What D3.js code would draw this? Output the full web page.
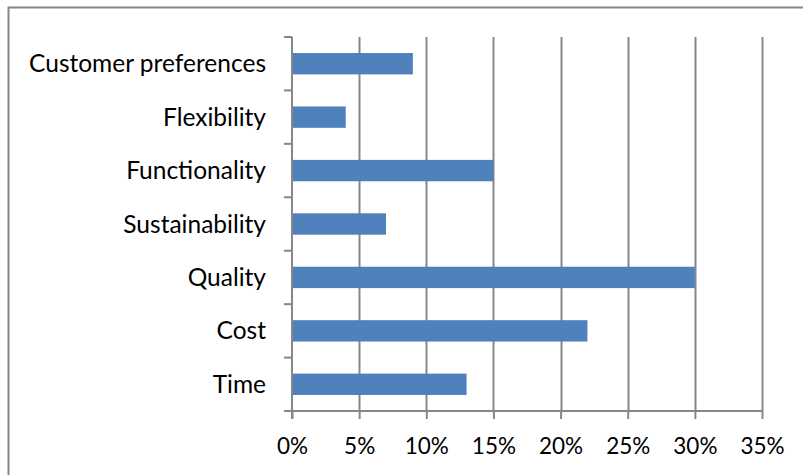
<!DOCTYPE html>
<html>
<head>
<meta charset="utf-8">
<script src="https://cdn.jsdelivr.net/npm/d3@7"></script>
<style>
  body { margin: 0; background: #fff; }
  text { font-family: Lato, 'Open Sans', sans-serif; fill: #000; }
</style>
</head>
<body>
<div id="chart"></div>
<script>
// data, top to bottom as shown
const categories = ['Customer preferences', 'Flexibility', 'Functionality', 'Sustainability', 'Quality', 'Cost', 'Time']
const values = [0.09, 0.04, 0.15, 0.07, 0.30, 0.22, 0.13]
const xTicks = [0, 0.05, 0.10, 0.15, 0.20, 0.25, 0.30, 0.35]

const width = 803
const height = 475
const margin = { top: 37, left: 292, right: 41, bottom: 64 }
const gridColor = '#878787'
const barColor = '#4f81bd'

const svg = d3.select('#chart')
  .append('svg')
  .attr('width', width)
  .attr('height', height)

// chart frame (right and bottom run off the picture)
svg.append('rect')
  .attr('x', 8.5)
  .attr('y', 7.5)
  .attr('width', width + 20)
  .attr('height', height + 20)
  .attr('fill', 'none')
  .attr('stroke', '#868686')
  .attr('stroke-width', 2)

const x = d3.scaleLinear()
  .domain([0, 0.35])
  .range([margin.left, width - margin.right])

const y = d3.scaleBand()
  .domain(categories)
  .range([margin.top, height - margin.bottom])
  .paddingInner(0.6)
  .paddingOuter(0.3)

const plotBottom = height - margin.bottom

// vertical gridlines
svg.append('g')
  .selectAll('line')
  .data(xTicks.slice(1))
  .enter()
  .append('line')
  .attr('x1', (d) => Math.round(x(d)) + 0.5)
  .attr('x2', (d) => Math.round(x(d)) + 0.5)
  .attr('y1', margin.top)
  .attr('y2', plotBottom)
  .attr('stroke', gridColor)
  .attr('stroke-width', 2)

// bars
svg.append('g')
  .selectAll('rect')
  .data(values)
  .enter()
  .append('rect')
  .attr('x', x(0))
  .attr('y', (d, i) => y(categories[i]))
  .attr('width', (d) => x(d) - x(0))
  .attr('height', y.bandwidth())
  .attr('fill', barColor)

// x axis
const xAxis = d3.axisBottom(x)
  .tickValues(xTicks)
  .tickFormat(d3.format('.0%'))
  .tickSize(8)
  .tickSizeOuter(0)
  .tickPadding(19)

const gx = svg.append('g')
  .attr('transform', `translate(0,${plotBottom})`)
  .call(xAxis)
gx.select('.domain').remove()
gx.selectAll('.tick line').attr('stroke', gridColor).attr('stroke-width', 2)
gx.selectAll('.tick text').style('font-size', '22.5px').style('font-family', null)
gx.append('line')
  .attr('x1', margin.left - 8)
  .attr('x2', width - margin.right + 1)
  .attr('y1', 0)
  .attr('y2', 0)
  .attr('stroke', gridColor)
  .attr('stroke-width', 2)

// y axis: category boundaries get the tick marks
const boundaries = d3.range(categories.length + 1).map((i) => margin.top + i * (plotBottom - margin.top) / categories.length)

const gy = svg.append('g')
gy.append('line')
  .attr('x1', margin.left)
  .attr('x2', margin.left)
  .attr('y1', margin.top)
  .attr('y2', plotBottom + 8)
  .attr('stroke', gridColor)
  .attr('stroke-width', 2)
gy.selectAll('line.tick')
  .data(boundaries.slice(0, -1))
  .enter()
  .append('line')
  .attr('class', 'tick')
  .attr('x1', margin.left - 8)
  .attr('x2', margin.left)
  .attr('y1', (d) => d)
  .attr('y2', (d) => d)
  .attr('stroke', gridColor)
  .attr('stroke-width', 2)
gy.selectAll('text')
  .data(categories)
  .enter()
  .append('text')
  .attr('x', margin.left - 26)
  .attr('y', (d) => y(d) + y.bandwidth() / 2)
  .attr('dy', '0.35em')
  .attr('text-anchor', 'end')
  .style('font-size', '24.5px')
  .text((d) => d)
</script>
</body>
</html>
